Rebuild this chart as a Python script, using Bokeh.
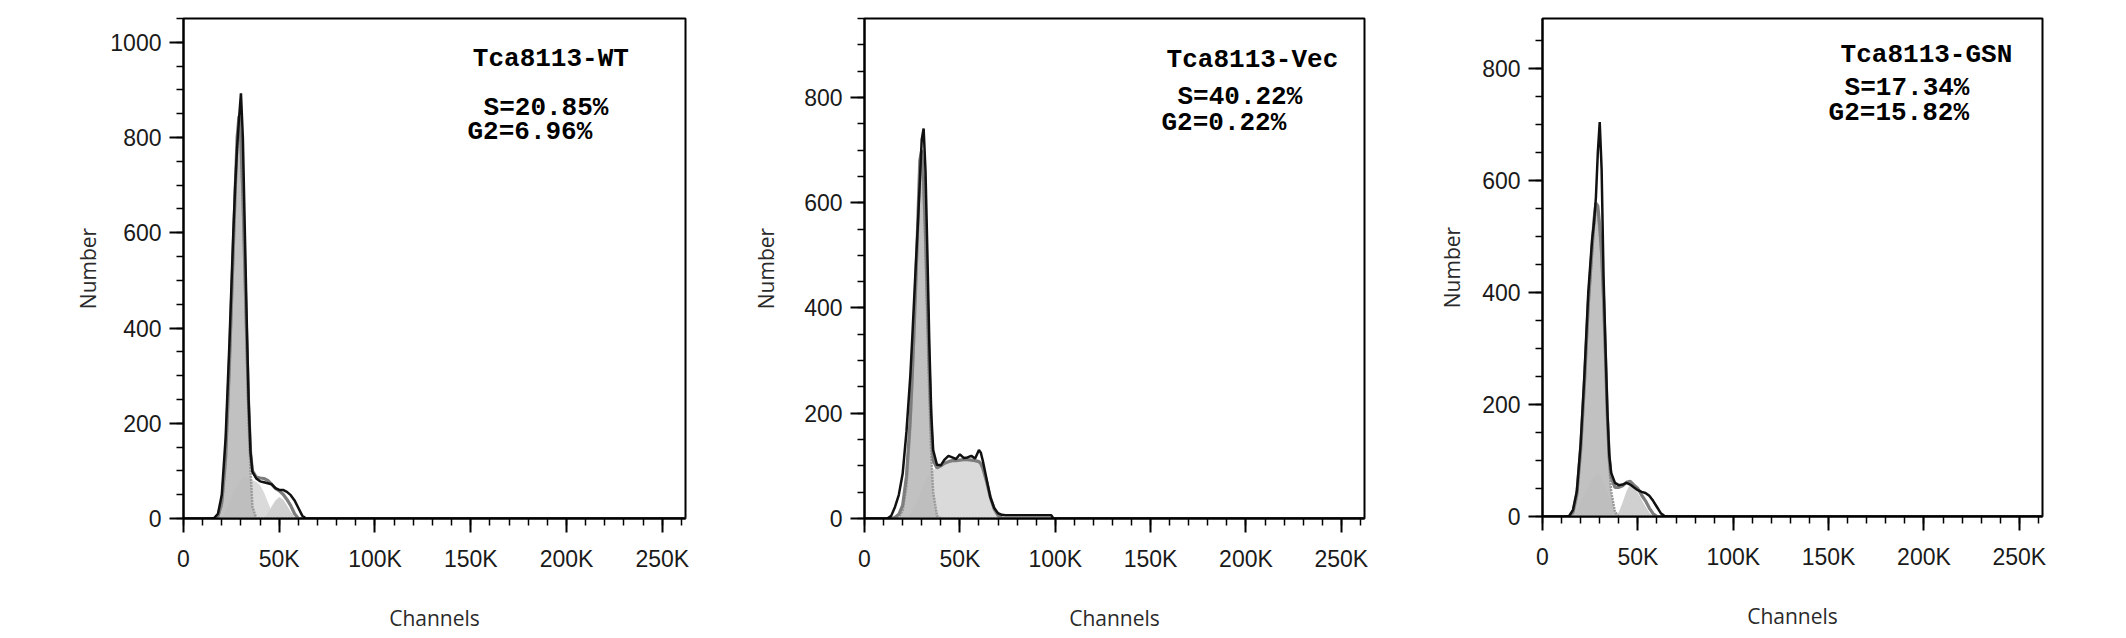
from bokeh.plotting import figure
from bokeh.layouts import row
from bokeh.models import SingleIntervalTicker, Range1d, Label, ColumnDataSource
from bokeh.embed import file_html
from bokeh.resources import INLINE

# ---------------- data ----------------
x_tick_values = [0, 50000, 100000, 150000, 200000, 250000]
x_tick_labels = ["0", "50K", "100K", "150K", "200K", "250K"]
x_max = 262144

sample_names = ["Tca8113-WT", "Tca8113-Vec", "Tca8113-GSN"]
s_phase_pct = ["20.85", "40.22", "17.34"]
g2_phase_pct = ["6.96", "0.22", "15.82"]
y_max = [1050, 950, 890]

# channel grid in thousands (K)
wt_channel = [0, 14, 16, 18, 20, 22, 24, 26, 27, 28, 29, 30, 31, 32, 33, 34, 35, 36, 38, 40,
              42, 44, 46, 48, 50, 52, 54, 56, 58, 60, 62, 64, 66, 262.144]
wt_total = [0, 0, 1, 10, 50, 170, 370, 600, 700, 780, 840, 893, 800, 610, 420, 250, 140, 98, 84, 78,
            76, 74, 72, 64, 60, 60, 56, 49, 38, 22, 6, 0, 0, 0]
wt_fit = [0, 0, 0, 5, 35, 130, 330, 570, 690, 800, 845, 790, 680, 530, 380, 240, 140, 100, 87, 85,
          84, 80, 72, 63, 58, 51, 40, 27, 10, 0, 0, 0, 0, 0]
wt_g1 = [0, 0, 0, 3, 25, 110, 300, 540, 660, 780, 840, 780, 660, 500, 350, 200, 100, 25, 0, 0,
         0, 0, 0, 0, 0, 0, 0, 0, 0, 0, 0, 0, 0, 0]
wt_s = [0, 0, 0, 0, 0, 15, 35, 55, 63, 70, 76, 81, 85, 87, 86, 85, 83, 81, 77, 70,
        55, 35, 15, 3, 0, 0, 0, 0, 0, 0, 0, 0, 0, 0]
wt_g2 = [0, 0, 0, 0, 0, 0, 0, 0, 0, 0, 0, 0, 0, 0, 0, 0, 0, 0, 0, 0,
         0, 10, 25, 38, 45, 40, 28, 14, 3, 0, 0, 0, 0, 0]

vec_channel = [0, 12, 14, 16, 18, 20, 22, 24, 25, 26, 27, 28, 29, 30, 31, 32, 33, 34, 35, 36,
               38, 40, 42, 44, 46, 48, 50, 52, 54, 56, 58, 60, 61, 62, 64, 66, 68, 70, 72, 74,
               98, 99, 262.144]
vec_total = [0, 0, 5, 22, 45, 85, 165, 270, 340, 415, 490, 560, 640, 720, 741, 659, 500, 330, 200, 130,
             102, 101, 112, 119, 116, 113, 122, 115, 116, 119, 114, 130, 125, 110, 75, 40, 20, 10, 7, 6,
             6, 0, 0]
vec_fit = [0, 0, 0, 2, 8, 25, 80, 190, 270, 360, 460, 570, 680, 700, 640, 540, 410, 280, 170, 110,
           96, 100, 105, 108, 110, 110, 111, 112, 112, 111, 110, 108, 104, 96, 70, 40, 18, 6, 1, 0,
           0, 0, 0]
vec_g1 = [0, 0, 0, 0, 2, 15, 60, 170, 250, 340, 440, 550, 660, 690, 620, 500, 360, 230, 120, 50,
          5, 0, 0, 0, 0, 0, 0, 0, 0, 0, 0, 0, 0, 0, 0, 0, 0, 0, 0, 0,
          0, 0, 0]
vec_s = [0, 0, 0, 0, 0, 0, 0, 10, 15, 22, 28, 36, 45, 55, 63, 72, 80, 86, 90, 93,
         95, 99, 104, 107, 109, 109, 110, 111, 111, 110, 109, 107, 103, 95, 69, 39, 17, 5, 0, 0,
         0, 0, 0]
vec_g2 = [0, 0, 0, 0, 0, 0, 0, 0, 0, 0, 0, 0, 0, 0, 0, 0, 0, 0, 0, 0,
          0, 0, 0, 0, 0, 0, 0, 0, 0, 1, 2, 3, 3, 2, 1, 0, 0, 0, 0, 0,
          0, 0, 0]

gsn_channel = [0, 12, 14, 16, 18, 20, 22, 24, 26, 27, 28, 29, 30, 31, 32, 33, 34, 35, 36, 38,
               40, 42, 44, 46, 48, 50, 52, 54, 56, 58, 60, 62, 64, 66, 262.144]
gsn_total = [0, 0, 1, 12, 45, 130, 255, 400, 495, 525, 570, 650, 705, 620, 430, 305, 190, 110, 78, 60,
             56, 57, 60, 57, 52, 47, 44, 42, 37, 28, 17, 6, 1, 0, 0]
gsn_fit = [0, 0, 0, 8, 40, 120, 240, 380, 480, 530, 560, 555, 520, 470, 390, 290, 180, 105, 70, 52,
           52, 55, 61, 63, 56, 50, 38, 28, 15, 5, 0, 0, 0, 0, 0]
gsn_g1 = [0, 0, 0, 6, 35, 110, 230, 370, 470, 520, 555, 545, 510, 460, 380, 280, 170, 90, 45, 8,
          0, 0, 0, 0, 0, 0, 0, 0, 0, 0, 0, 0, 0, 0, 0]
gsn_s = [0, 0, 0, 0, 10, 25, 40, 55, 66, 70, 74, 76, 74, 70, 62, 54, 45, 36, 28, 10,
         0, 0, 0, 0, 0, 0, 0, 0, 0, 0, 0, 0, 0, 0, 0]
gsn_g2 = [0, 0, 0, 0, 0, 0, 0, 0, 0, 0, 0, 0, 0, 0, 0, 0, 0, 0, 0, 0,
          8, 25, 45, 58, 52, 42, 30, 18, 7, 0, 0, 0, 0, 0, 0]

panels = [
    (wt_channel, wt_total, wt_fit, wt_g1, wt_s, wt_g2),
    (vec_channel, vec_total, vec_fit, vec_g1, vec_s, vec_g2),
    (gsn_channel, gsn_total, gsn_fit, gsn_g1, gsn_s, gsn_g2),
]

# ---------------- layout (positions / styles) ----------------
border_left = [183, 159, 158]
border_top = [18, 14, 12]
frame_w = [502, 500, 500]
frame_h = [500, 500, 498]
total_h = 630
ylabel_standoff = [5, 21, 13]
# annotation anchors (data coords): title, S line, G2 line
ann_pos = [
    ((151100, 965), (156700, 862), (148300, 812)),
    ((158400, 872), (164100, 800), (155700, 751)),
    ((156300, 825), (158400, 765), (150000, 721)),
]

TICK_FONT = "Liberation Sans"
LABEL_FONT = "Open Sans"
ANN_FONT = "Liberation Mono"

figs = []
for i, (ch_k, total, fit, g1, s, g2) in enumerate(panels):
    src = ColumnDataSource(dict(x=[c * 1000 for c in ch_k], total=total, fit=fit, g1=g1, s=s, g2=g2))
    p = figure(frame_width=frame_w[i], frame_height=frame_h[i],
               min_border_left=border_left[i], min_border_right=20,
               min_border_top=border_top[i], min_border_bottom=total_h - border_top[i] - frame_h[i],
               x_range=Range1d(0, x_max), y_range=Range1d(0, y_max[i]),
               output_backend="svg", toolbar_location=None, tools="")
    p.background_fill_color = "white"
    p.border_fill_color = "white"
    p.outline_line_color = "black"
    p.outline_line_width = 2
    p.xgrid.visible = False
    p.ygrid.visible = False

    # components
    p.varea(x="x", y1=0, y2="s", source=src, fill_color="#dadada", fill_alpha=1.0)
    p.varea(x="x", y1=0, y2="g2", source=src, fill_color="#d0d0d0", fill_alpha=1.0)
    p.varea(x="x", y1=0, y2="g1", source=src, fill_color="#bcbcbc", fill_alpha=0.92)
    p.line(x="x", y="g1", source=src, line_color="#9a9a9a", line_width=2.5, line_dash="2 1")
    p.line(x="x", y="fit", source=src, line_color="#7d7d7d", line_width=3.2)
    p.line(x="x", y="total", source=src, line_color="#111111", line_width=2.5)

    # axes
    p.xaxis.ticker = SingleIntervalTicker(interval=50000, num_minor_ticks=5)
    p.xaxis.major_label_overrides = {v: t for v, t in zip(x_tick_values, x_tick_labels)}
    p.yaxis.ticker = SingleIntervalTicker(interval=200, num_minor_ticks=4)
    for ax in (p.xaxis[0], p.yaxis[0]):
        ax.axis_line_color = "black"
        ax.axis_line_width = 2
        ax.major_tick_line_color = "black"
        ax.major_tick_line_width = 2
        ax.minor_tick_line_color = "black"
        ax.minor_tick_line_width = 1.5
        ax.major_tick_in = 0
        ax.major_tick_out = 14
        ax.minor_tick_in = 0
        ax.minor_tick_out = 7
        ax.major_label_text_font = TICK_FONT
        ax.major_label_text_font_size = "23px"
        ax.major_label_text_color = "#1a1a1a"
        ax.axis_label_text_font = LABEL_FONT
        ax.axis_label_text_font_size = "21px"
        ax.axis_label_text_font_style = "normal"
        ax.axis_label_text_color = "#2a2a2a"
    p.xaxis.axis_label = "Channels"
    p.yaxis.axis_label = "Number"
    p.xaxis.major_label_standoff = 13
    p.xaxis.axis_label_standoff = 29
    p.yaxis.major_label_standoff = 8
    p.yaxis.axis_label_standoff = ylabel_standoff[i]

    texts = [sample_names[i], "S=" + s_phase_pct[i] + "%", "G2=" + g2_phase_pct[i] + "%"]
    for (ax_, ay_), t in zip(ann_pos[i], texts):
        p.add_layout(Label(x=ax_, y=ay_, text=t, text_font=ANN_FONT, text_font_size="26px",
                           text_font_style="bold", text_color="black",
                           text_align="left", text_baseline="alphabetic"))
    figs.append(p)

layout = row(*figs)
open("out.html", "w").write(file_html(layout, INLINE))
